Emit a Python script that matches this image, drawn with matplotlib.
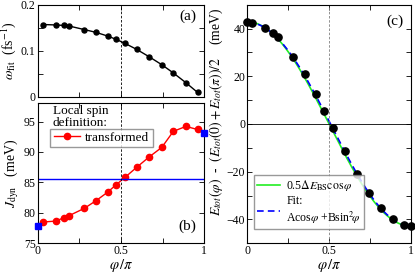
import numpy as np
import matplotlib
matplotlib.use('Agg')
import matplotlib.pyplot as plt
from matplotlib.ticker import MultipleLocator

plt.rcParams['font.family'] = ['Liberation Serif', 'DejaVu Serif']
plt.rcParams['mathtext.fontset'] = 'stix'
plt.rcParams['xtick.direction'] = 'in'
plt.rcParams['ytick.direction'] = 'in'
plt.rcParams['xtick.top'] = True
plt.rcParams['ytick.right'] = True
plt.rcParams['axes.linewidth'] = 0.8

### data
phi = [0.03, 0.11, 0.155, 0.185, 0.28, 0.35, 0.42, 0.47, 0.525, 0.595, 0.67, 0.745, 0.815, 0.89, 0.96]
omega_fit = [0.157, 0.156, 0.155, 0.154, 0.146, 0.140, 0.132, 0.125, 0.116, 0.103, 0.087, 0.070, 0.052, 0.031, 0.010]
j_dyn = [78.5, 78.65, 79.2, 79.5, 80.75, 82.0, 83.4, 84.6, 85.85, 87.5, 89.2, 90.75, 93.4, 94.2, 93.7]
j_ends_x = [0.0, 1.0]
j_ends_y = [77.9, 93.2]
dE_bs = 85.6

phi_c = [0.0, 0.03, 0.11, 0.155, 0.185, 0.28, 0.35, 0.42, 0.47, 0.525, 0.595, 0.67, 0.745, 0.815, 0.89, 0.96, 1.0]
e_tot = [42.8, 42.5, 40.4, 38.2, 36.5, 28.2, 21.0, 12.4, 5.6, -1.7, -11.4, -20.8, -28.9, -35.4, -40.0, -42.4, -42.8]
fit_A = 42.6
fit_B = 1.2

fig = plt.figure(figsize=(4.15, 2.74), dpi=100)
ax_a = fig.add_axes([0.091, 0.646, 0.401, 0.337])
ax_b = fig.add_axes([0.091, 0.112, 0.401, 0.511])
ax_c = fig.add_axes([0.596, 0.112, 0.394, 0.871])

for ax in (ax_a, ax_b, ax_c):
    ax.set_xlim(0, 1)
    ax.xaxis.set_minor_locator(MultipleLocator(0.25))
    ax.tick_params(which='both', labelsize=8.5, length=3.5, width=0.6, pad=1.5)
    ax.set_xticks([0, 0.5, 1])
    ax.set_xticklabels(['0', '0.5', '1'])

### (a)
ax_a.plot(phi, omega_fit, 'k-o', ms=3.6, lw=1)
ax_a.axvline(0.5, color='k', ls='--', lw=0.6, dashes=(3, 2))
ax_a.set_ylim(0, 0.2)
ax_a.set_yticks([0, 0.1, 0.2])
ax_a.set_yticklabels(['0', '0.1', '0.2'])
ax_a.yaxis.set_minor_locator(MultipleLocator(0.05))
ax_a.tick_params(labelbottom=False)
ax_a.set_ylabel(r'$\omega_{\rm fit}$  (fs$^{-1}$)', fontsize=10, labelpad=2)
ax_a.text(0.9, 0.87, '(a)', transform=ax_a.transAxes, fontsize=11, ha='center', va='center')

### (b)
ax_b.plot(phi, j_dyn, '-o', color='red', ms=4.5, lw=1, label='transformed')
ax_b.plot(j_ends_x, j_ends_y, 's', color='blue', ms=4.5, clip_on=False, zorder=5)
ax_b.axhline(dE_bs, color='blue', lw=1)
ax_b.axvline(0.5, color='k', ls='--', lw=0.6, dashes=(3, 2))
ax_b.set_ylim(75, 98)
ax_b.set_yticks([75, 80, 85, 90, 95])
ax_b.set_ylabel(r'$J_{\rm dyn}$   (meV)', fontsize=10, labelpad=2)
ax_b.set_xlabel(r'$\varphi\,/\pi$', fontsize=10.5, labelpad=0)
ax_b.text(0.9, 0.12, '(b)', transform=ax_b.transAxes, fontsize=11, ha='center', va='center')
ax_b.text(0.09, 0.985, 'Local spin\ndefinition:', transform=ax_b.transAxes, fontsize=9.5,
          ha='left', va='top', linespacing=1.0)
ax_b.legend(loc='upper left', bbox_to_anchor=(0.075, 0.82), fontsize=9.5, frameon=True, fancybox=False,
            edgecolor='gray', handlelength=2.0, borderpad=0.25, handletextpad=0.4, borderaxespad=0)

### (c)
xs = np.linspace(0, 1, 200)
ax_c.plot(xs, 0.5 * dE_bs * np.cos(np.pi * xs), color='#22ee22', lw=1.2,
          label=r'0.5$\Delta E_{\rm BS}\cos\varphi$')
ax_c.plot(xs, fit_A * np.cos(np.pi * xs) + fit_B * np.sin(np.pi * xs) ** 2, color='blue', lw=1.2,
          ls='--', dashes=(4, 2.5), label='Fit:\nA' + r'cos$\varphi$ +Bsin$^2\!\varphi$')
ax_c.plot(phi_c, e_tot, 'o', color='k', ms=5.2, zorder=3, clip_on=False)
ax_c.axvline(0.5, color='gray', ls='--', lw=0.6, dashes=(3, 2))
ax_c.axhline(0, color='k', lw=0.6)
ax_c.set_ylim(-50, 50)
ax_c.set_yticks([-40, -20, 0, 20, 40])
ax_c.yaxis.set_minor_locator(MultipleLocator(10))
ax_c.set_xlabel(r'$\varphi\,/\pi$', fontsize=10.5, labelpad=0)
ax_c.set_ylabel(r'$E_{tot}(\varphi)$  -  $(E_{tot}(0)+E_{tot}(\pi))/2$    (meV)', fontsize=9.8, labelpad=1)
ax_c.yaxis.set_label_coords(-0.135, 0.55)
ax_c.text(0.9, 0.93, '(c)', transform=ax_c.transAxes, fontsize=11, ha='center', va='center')
ax_c.legend(loc='lower left', bbox_to_anchor=(0.04, 0.06), fontsize=8.5, frameon=True, fancybox=False,
            edgecolor='gray', handlelength=2.0, borderpad=0.25, handletextpad=0.5, borderaxespad=0,
            labelspacing=0.2)

fig.savefig('out.png', dpi=100)
